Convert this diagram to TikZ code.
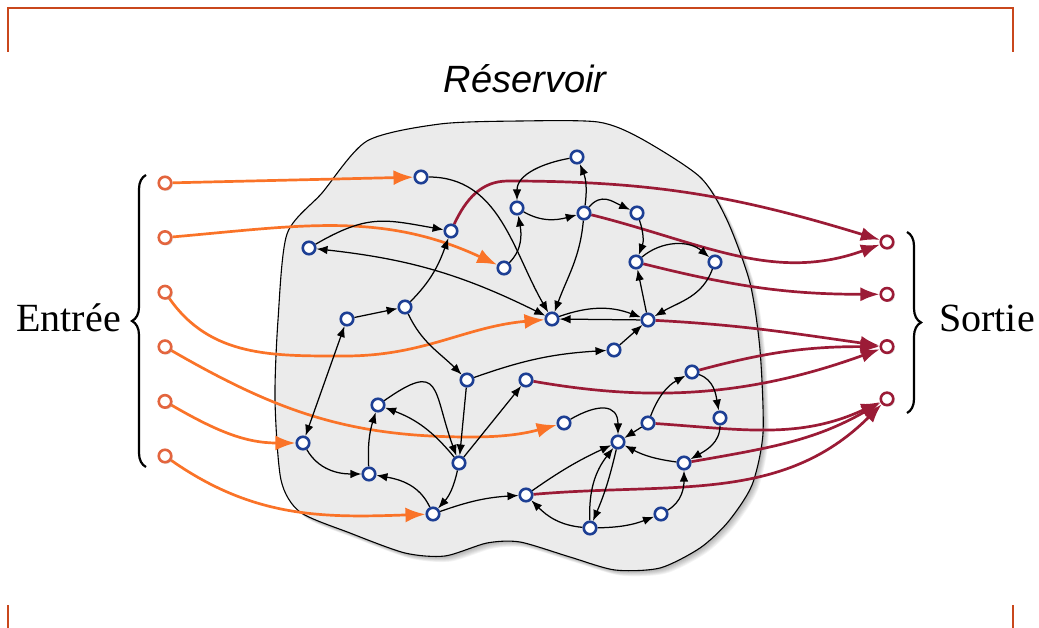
\documentclass[tikz,border=0pt]{standalone}
\usepackage{fontspec}
\setmainfont{Liberation Serif}
\newfontfamily\labelsans{Liberation Sans}
\usepackage{xcolor}
\usepackage{tikz}
\usetikzlibrary{arrows.meta,positioning,shadows,decorations.pathreplacing}
\definecolor{resblue}{HTML}{1D3F94}
\definecolor{inred}{HTML}{E3653E}
\definecolor{inorange}{HTML}{FA7328}
\definecolor{outred}{HTML}{9B1B36}
\definecolor{framered}{HTML}{C9471C}
\definecolor{blobgray}{HTML}{EBEBEB}
\pgfdeclarelayer{back}
\pgfdeclarelayer{wires}
\pgfsetlayers{back,wires,main}
\tikzset{
  neuron/.style={
    circle,
    draw=resblue,
    fill=white,
    line width=2.6pt,
    minimum size=12.5pt,
    inner sep=0pt
  },
  inneuron/.style={
    neuron,
    draw=inred,
    drop shadow={shadow xshift=1.5pt, shadow yshift=-1.5pt, opacity=0.3}
  },
  outneuron/.style={
    neuron,
    draw=outred,
    drop shadow={shadow xshift=1.5pt, shadow yshift=-1.5pt, opacity=0.3}
  },
  link/.style={
    ->,
    >={Latex[length=11pt,width=8.5pt]},
    line width=1.25pt
  },
  inlink/.style={
    ->,
    >={Latex[length=20pt,width=15pt]},
    draw=inorange,
    line width=2.7pt
  },
  outlink/.style={
    ->,
    >={Latex[length=19pt,width=14pt]},
    draw=outred,
    line width=2.7pt
  },
  blob/.style={
    draw=black,
    fill=blobgray,
    line width=1.1pt
  },
  bracket/.style={
    decorate,
    decoration={brace, amplitude=14pt},
    line width=2.2pt
  },
  frame/.style={
    draw=framered,
    line width=1.6pt
  },
  sidelabel/.style={
    font=\fontsize{40}{48}\selectfont,
    inner sep=0pt
  },
  titlelabel/.style={
    font=\labelsans\itshape\fontsize{38}{46}\selectfont,
    inner sep=0pt
  }
}
\newcommand{\blobshape}{plot[smooth cycle, tension=0.45] coordinates {(367,141) (440,124) (520,121) (598,122) (640,138) (700,177) (727,220) (750,283) (760,350) (763,433) (752,485) (728,522) (700,548) (660,568) (615,570) (570,557) (520,542) (487,543) (445,556) (405,553) (350,533) (300,512) (281,480) (275,400) (278,320) (287,234) (322,193)}}

\begin{document}
\begin{tikzpicture}[x=1pt,y=-1pt]
\useasboundingbox (0,0) rectangle (1039,628);

\draw[frame] (8,52) -- (8,8) -- (1013,8) -- (1013,52);
\draw[frame] (8,605) -- (8,628);
\draw[frame] (1013,605) -- (1013,628);

% reservoir
\begin{pgfonlayer}{back}
\foreach \k in {1,...,8}
  \fill[black, opacity=0.045, shift={(\k*0.7,\k*0.7)}] \blobshape;
\draw[blob] \blobshape;
\end{pgfonlayer}

\node[titlelabel, anchor=base] (reservoir) at (525,93) {Réservoir};

\node[neuron] (r1) at (421,177) {};
\node[neuron] (r2) at (451,231) {};
\node[neuron] (r3) at (309,248) {};
\node[neuron] (r4) at (504,268) {};
\node[neuron] (r5) at (517,208) {};
\node[neuron] (r6) at (577,157) {};
\node[neuron] (r7) at (584,213) {};
\node[neuron] (r8) at (637,213) {};
\node[neuron] (r9) at (636,262) {};
\node[neuron] (r10) at (715,262) {};
\node[neuron] (r11) at (552,319) {};
\node[neuron] (r12) at (648,320) {};
\node[neuron] (r13) at (614,350) {};
\node[neuron] (r14) at (405,307) {};
\node[neuron] (r15) at (347,319) {};
\node[neuron] (r16) at (467,380) {};
\node[neuron] (r17) at (526,380) {};
\node[neuron] (r18) at (692,372) {};
\node[neuron] (r19) at (378,405) {};
\node[neuron] (r20) at (564,423) {};
\node[neuron] (r21) at (648,423) {};
\node[neuron] (r22) at (720,418) {};
\node[neuron] (r23) at (303,443) {};
\node[neuron] (r24) at (618,442) {};
\node[neuron] (r25) at (459,463) {};
\node[neuron] (r26) at (369,474) {};
\node[neuron] (r27) at (684,463) {};
\node[neuron] (r28) at (526,495) {};
\node[neuron] (r29) at (433,514) {};
\node[neuron] (r30) at (661,514) {};
\node[neuron] (r31) at (590,528) {};

% inputs and outputs
\node[inneuron] (in1) at (165,183) {};
\node[inneuron, below=39.5pt of in1] (in2) {};
\node[inneuron, below=39.5pt of in2] (in3) {};
\node[inneuron, below=39.5pt of in3] (in4) {};
\node[inneuron, below=39.5pt of in4] (in5) {};
\node[inneuron, below=39.5pt of in5] (in6) {};

\node[outneuron] (out1) at (887,242) {};
\node[outneuron, below=37.2pt of out1] (out2) {};
\node[outneuron, below=37.2pt of out2] (out3) {};
\node[outneuron, below=37.2pt of out3] (out4) {};

\node[sidelabel, anchor=base east] (entree) at (121,332) {Entrée};
\node[sidelabel, anchor=base west] (sortie) at (939,332) {Sortie};
\draw[bracket] (146,467) -- (146,175);
\draw[bracket] (907,232) -- (907,413);

\begin{pgfonlayer}{wires}
\draw[inlink] (in1) -- (r1);
\draw[inlink] (in2) to[out=5,in=155] (r4);
\draw[inlink] (in3) to[out=-55,in=180] (345,356) to[out=0,in=185] (r11);
\draw[inlink] (in4) to[out=-30,in=180] (470,437) to[out=0,in=195] (r20);
\draw[inlink] (in5) to[out=-30,in=180] (r23);
\draw[inlink] (in6) to[out=-35,in=182] (r29);

\draw[outlink] (r2) to[out=65,in=180] (508,181) to[out=0,in=163] (out1);
\draw[outlink] (r7) to[out=-14,in=200] (out1);
\draw[outlink] (r9) to[out=-14,in=180] (out2);
\draw[outlink] (r12) to[out=-3,in=172] (out3);
\draw[outlink] (r18) to[out=15,in=180] (out3);
\draw[outlink] (r17) .. controls (640,400) and (740,400) .. (out3);
\draw[outlink] (r21) to[out=-4,in=205] (out4);
\draw[outlink] (r27) to[out=10,in=210] (out4);
\draw[outlink] (r28) to[out=5,in=225] (out4);

\draw[link] (r1) to[out=0,in=120] (r11);
\draw[link] (r3) to[out=30,in=170,looseness=1.2] (r2);
\draw[link,<->] (r3) to[bend left=10] (r11);
\draw[link] (r4) to[out=45,in=-80] (r5);
\draw[link] (r6) to[out=190,in=90] (r5);
\draw[link] (r5) to[out=-30,in=195] (r7);
\draw[link] (r7) to[bend right=15] (r6);
\draw[link] (r7) to[out=50,in=155,looseness=1.2] (r8);
\draw[link] (r7) to[out=-95,in=70] (r11);
\draw[link] (r8) to[bend left=20] (r9);
\draw[link] (r9) to[bend left=40] (r10);
\draw[link] (r10) to[out=-110,in=30] (r12);
\draw[link] (r12) -- (r9);
\draw[link] (r11) to[bend left=20] (r12);
\draw[link] (r12) -- (r11);
\draw[link] (r13) -- (r12);
\draw[link] (r16) to[bend left=8] (r13);
\draw[link] (r14) to[out=45,in=-110] (r2);
\draw[link] (r15) -- (r14);
\draw[link] (r14) to[out=-65,in=135] (r16);
\draw[link,<->] (r15) -- (r23);
\draw[link] (r23) to[out=-60,in=180] (r26);
\draw[link] (r26) to[bend left=10] (r19);
\draw[link] (r19) to[out=35,in=110,looseness=2] (r25);
\draw[link] (r25) to[bend right=15] (r19);
\draw[link] (r16) -- (r25);
\draw[link] (r25) -- (r17);
\draw[link] (r25) to[bend left=15] (r29);
\draw[link] (r29) to[out=115,in=-10] (r26);
\draw[link] (r29) to[bend left=8] (r28);
\draw[link] (r28) to[bend left=5] (r24);
\draw[link] (r20) to[out=30,in=90,looseness=1.6] (r24);
\draw[link] (r31) to[out=175,in=-45] (r28);
\draw[link] (r31) to[bend left=20] (r24);
\draw[link] (r24) to[bend left=5] (r31);
\draw[link] (r31) to[bend right=10] (r30);
\draw[link] (r30) to[out=30,in=-90] (r27);
\draw[link] (r27) to[bend left=10] (r24);
\draw[link] (r21) -- (r24);
\draw[link] (r21) to[bend left=20] (r18);
\draw[link] (r18) to[out=-20,in=100] (r22);
\draw[link] (r22) to[out=-90,in=30] (r27);
\end{pgfonlayer}

\end{tikzpicture}
\end{document}
